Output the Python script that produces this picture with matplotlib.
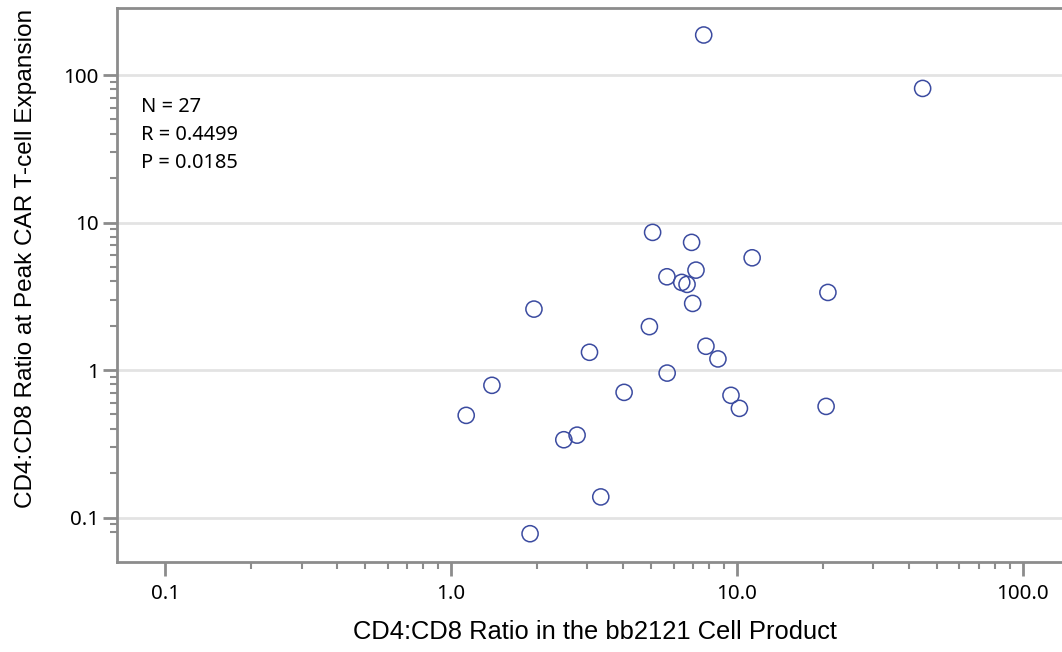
import numpy as np
import matplotlib
matplotlib.use("Agg")
import matplotlib.pyplot as plt
from matplotlib.ticker import FixedLocator, NullFormatter

# CD4:CD8 ratio in the product (x) and at peak expansion (y)
product_ratio = [7.65, 44.6, 5.07, 6.94, 11.3, 5.69, 6.41, 6.69, 7.19, 7.00,
                 20.8, 1.95, 4.94, 3.05, 7.79, 8.58, 5.70, 1.39, 4.03, 9.53,
                 10.2, 20.5, 1.13, 2.48, 2.76, 3.34, 1.89]
peak_ratio = [187, 81.2, 8.58, 7.34, 5.77, 4.29, 3.93, 3.81, 4.76, 2.83,
              3.36, 2.59, 1.97, 1.32, 1.45, 1.19, 0.954, 0.788, 0.706, 0.674,
              0.55, 0.567, 0.493, 0.337, 0.362, 0.138, 0.0777]

x_ticks = [0.1, 1, 10, 100]
x_tick_labels = ["0.1", "1.0", "10.0", "100.0"]
y_ticks = [0.1, 1, 10, 100]
y_tick_labels = ["0.1", "1", "10", "100"]
stats_lines = ["N = 27", "R = 0.4499", "P = 0.0185"]

W, H = 1062, 652
fig = plt.figure(figsize=(W / 100, H / 100), dpi=100)
ax = fig.add_axes([117 / W, (H - 561.7) / H, (W - 117) / W, (561.7 - 8) / H])

spine_col = "#8c8c8c"
ax.set_xscale("log")
ax.set_yscale("log")
ax.set_xlim(0.0679, 137)
ax.set_ylim(0.0502, 285)

ax.scatter(product_ratio, peak_ratio, s=135, facecolors="none",
           edgecolors="#3b4ba0", linewidths=1.1, zorder=3)

ax.set_xticks(x_ticks, x_tick_labels, family="Noto Sans")
ax.set_yticks(y_ticks, y_tick_labels, family="Noto Sans")

# minor ticks only inside the labelled decades (as in the original)
subs = np.arange(2, 10)
x_minor = np.concatenate([subs * 0.1, subs * 1.0, subs * 10.0])
y_minor = np.concatenate([[0.08, 0.09], subs * 0.1, subs * 1.0, subs * 10.0])
ax.xaxis.set_minor_locator(FixedLocator(x_minor))
ax.yaxis.set_minor_locator(FixedLocator(y_minor))
ax.xaxis.set_minor_formatter(NullFormatter())
ax.yaxis.set_minor_formatter(NullFormatter())

ax.grid(axis="y", which="major", color="#e3e3e3", linewidth=2, zorder=0)
ax.set_axisbelow(True)

for side in ["left", "bottom", "top"]:
    ax.spines[side].set_color(spine_col)
    ax.spines[side].set_linewidth(2)
ax.spines["right"].set_visible(False)

ax.tick_params(which="major", length=10, width=2, color=spine_col,
               labelsize=14.8, labelcolor="black")
ax.tick_params(which="minor", length=5, width=1.5, color=spine_col)
ax.tick_params(axis="x", which="major", pad=6)
ax.tick_params(axis="y", which="major", pad=3)

for i, line in enumerate(stats_lines):
    fig.text(141 / W, 1 - (107 + 28 * i) / H, line, family="Noto Sans",
             fontsize=14.4, va="center", ha="left")

fig.text(595 / W, 1 - 632 / H, "CD4:CD8 Ratio in the bb2121 Cell Product",
         family="Liberation Sans", fontsize=18.4, ha="center", va="center")
fig.text(26 / W, 1 - 258 / H, "CD4:CD8 Ratio at Peak CAR T-cell Expansion",
         family="Liberation Sans", fontsize=17.6, ha="center", va="center",
         rotation=90)

fig.savefig("out.png", dpi=100)
